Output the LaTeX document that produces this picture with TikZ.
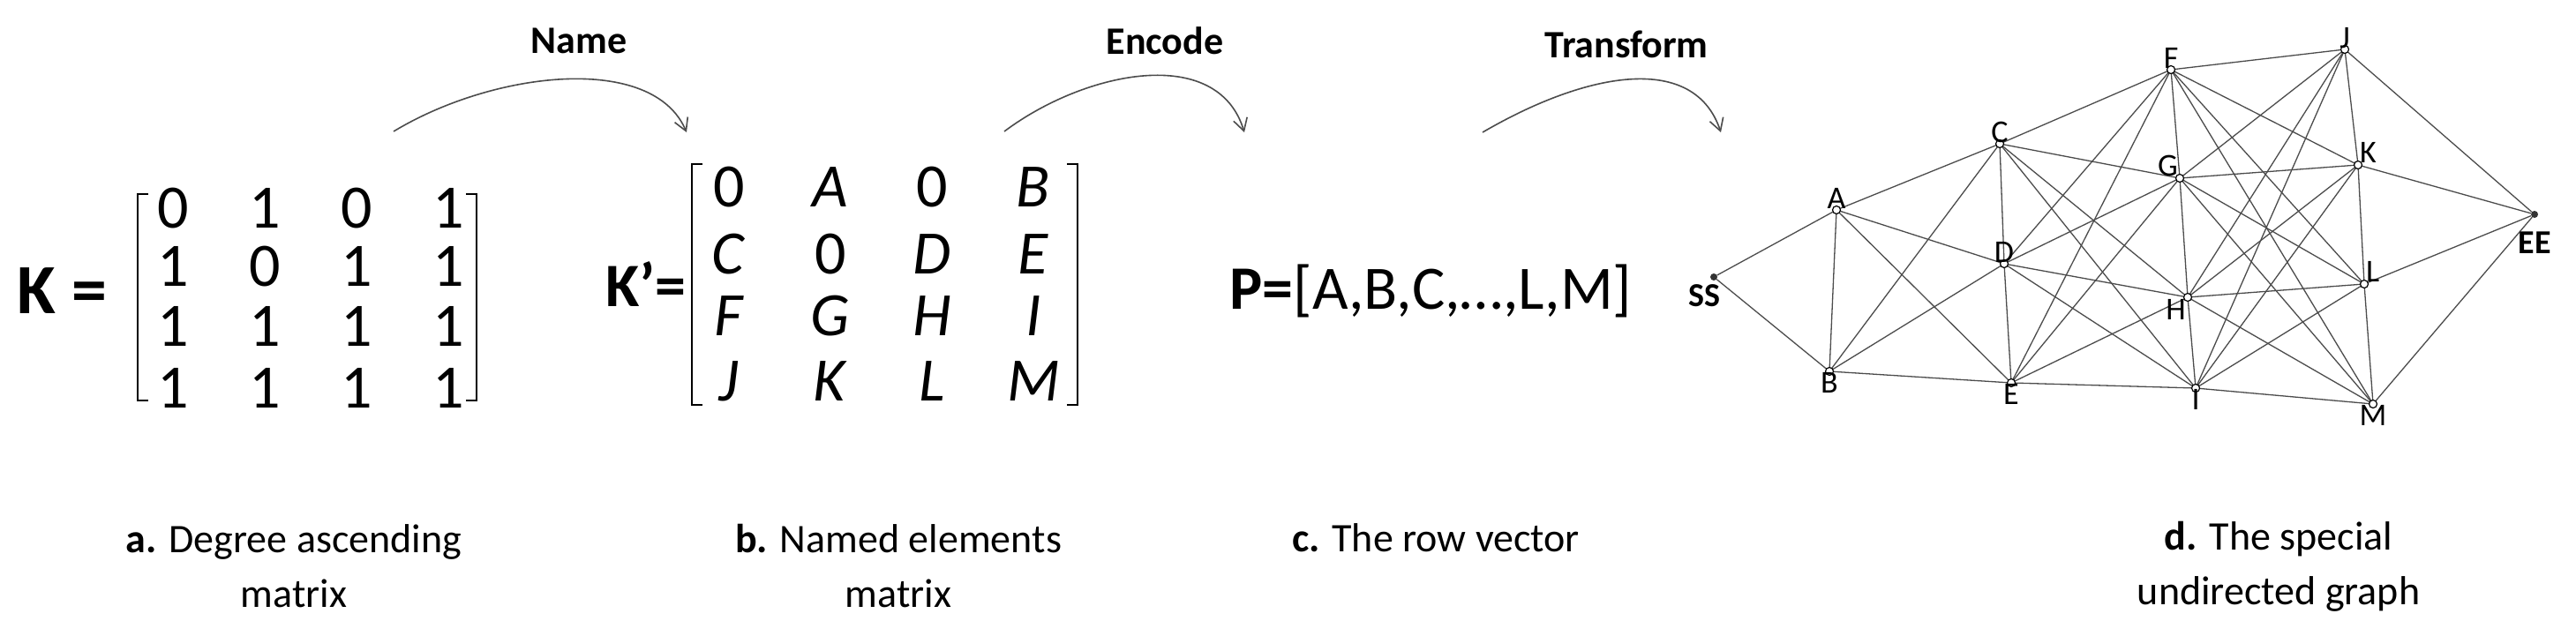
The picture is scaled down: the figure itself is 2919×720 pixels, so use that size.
\documentclass[tikz,border=0pt]{standalone}
\usepackage{fontspec}
\setmainfont{Carlito}
\usetikzlibrary{arrows.meta,positioning}
\begin{document}
\begin{tikzpicture}[x=1pt,y=-1pt,
  vtx/.style={circle,draw,fill=white,inner sep=0pt,minimum size=9pt,line width=1.2pt},
  endvtx/.style={circle,fill=black!80,inner sep=0pt,minimum size=8pt},
  vlabel/.style={font=\fontsize{36}{40}\selectfont},
  entry/.style={font=\fontsize{70}{80}\selectfont},
  caption/.style={font=\fontsize{46}{62}\selectfont,align=center},
  stepname/.style={font=\bfseries\fontsize{44}{50}\selectfont},
  steparrow/.style={draw=black!70,line width=1.6pt,-{Straight Barb[length=14pt,width=16pt]}},
  edge/.style={black!70,line width=1.3pt}]
\useasboundingbox (0,0) rectangle (2919,720);

% matrix a
\node[font=\bfseries\fontsize{80}{90}\selectfont] (kname) at (70,330) {K =};
\foreach \r/\y/\row in {1/236/{0,1,0,1},2/302/{1,0,1,1},3/370/{1,1,1,1},4/440/{1,1,1,1}}
  \foreach \e [count=\c] in \row
    {\node[entry] (k\r\c) at ({196+(\c-1)*104},\y) {\e};}
\draw[line width=2.5pt] (168,220) -- (156,220) -- (156,454) -- (168,454)
                        (528,220) -- (540,220) -- (540,454) -- (528,454);

% matrix b
\node[font=\bfseries\fontsize{70}{80}\selectfont] (kpname) at (732,322) {K’=};
\foreach \r/\y/\row in {1/212/{0,\textit{A},0,\textit{B}},2/288/{\textit{C},0,\textit{D},\textit{E}},
                        3/358/{\textit{F},\textit{G},\textit{H},\textit{I}},4/432/{\textit{J},\textit{K},\textit{L},\textit{M}}}
  \foreach \e [count=\c] in \row
    {\node[entry] (kp\r\c) at ({826+(\c-1)*115},\y) {\e};}
\draw[line width=2.5pt] (796,186) -- (784,186) -- (784,459) -- (796,459)
                        (1209,186) -- (1221,186) -- (1221,459) -- (1209,459);

% row vector
\node[font=\fontsize{70}{80}\selectfont,anchor=west] (pvec) at (1390,330) {\textbf{P=}[A,B,C,…,L,M]};

% step arrows
\node[stepname] (name) at (656,46) {Name};
\node[stepname] (encode) at (1320,46) {Encode};
\node[stepname] (transform) at (1843,50) {Transform};
\draw[steparrow] (446,149) .. controls (560,80) and (740,60) .. (778,150);
\draw[steparrow] (1138,149) .. controls (1230,80) and (1380,50) .. (1410,150);
\draw[steparrow] (1680,150) .. controls (1800,80) and (1920,60) .. (1950,150);

% graph
\node[endvtx] (SS) at (1942,314) {};
\node[endvtx] (EE) at (2872,243) {};
\foreach \n/\x/\y in {A/2081/238,B/2073/421,C/2266/163,D/2271/299,E/2279/434,
                      F/2460/79,G/2470/202,H/2479/337,I/2488/440,
                      J/2657/56,K/2672/187,L/2679/322,M/2689/458}
  \coordinate (\n) at (\x,\y);
\foreach \a/\b in {SS/A,SS/B,A/B,C/D,D/E,F/G,G/H,H/I,J/K,K/L,L/M,J/EE,K/EE,L/EE,M/EE}
  \draw[edge] (\a) -- (\b);
\foreach \a in {A,B}
  \foreach \b in {C,D,E}
    \draw[edge] (\a) -- (\b);
\foreach \a in {C,D,E}
  \foreach \b in {F,G,H,I}
    \draw[edge] (\a) -- (\b);
\foreach \a in {F,G,H,I}
  \foreach \b in {J,K,L,M}
    \draw[edge] (\a) -- (\b);
\foreach \n in {A,B,C,D,E,F,G,H,I,J,K,L,M}
  \node[vtx] (v\n) at (\n) {};
\foreach \n/\pos in {A/above,C/above,F/above,J/above,D/above,G/above left,
                     K/above right,L/above right,H/below left,B/below,E/below,I/below,M/below}
  \node[vlabel,\pos=-2pt] (l\n) at (v\n) {\n};
\node[font=\bfseries\fontsize{38}{40}\selectfont,below left=2pt and -14pt of SS] (lSS) {SS};
\node[font=\bfseries\fontsize{38}{40}\selectfont,below=12pt of EE] (lEE) {EE};

% captions
\node[caption] (capa) at (333,642) {\textbf{a.} Degree ascending\\matrix};
\node[caption] (capb) at (1018,642) {\textbf{b.} Named elements\\matrix};
\node[caption] (capc) at (1627,610) {\textbf{c.} The row vector};
\node[caption] (capd) at (2582,642) {\textbf{d.} The special\\undirected graph};
\end{tikzpicture}
\end{document}
